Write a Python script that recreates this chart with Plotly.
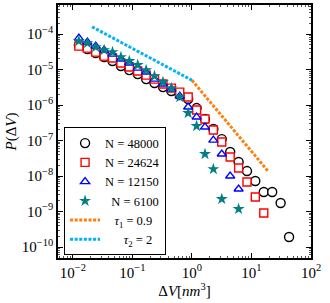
import plotly.graph_objects as go

# bin centres (ΔV, nm^3)
dv = [0.0126, 0.0175, 0.0242, 0.0335, 0.0463, 0.0641, 0.0887, 0.1228, 0.170, 0.235,
      0.326, 0.451, 0.624, 0.865, 1.197, 1.656, 2.29, 3.17, 4.39, 6.08,
      8.41, 11.6, 16.1, 22.3, 30.9, 42.8]

p_48000 = [4.90e-5, 3.78e-5, 2.92e-5, 2.25e-5, 1.74e-5, 1.26e-5, 9.68e-6, 7.47e-6, 5.40e-6, 4.17e-6,
           3.21e-6, 2.48e-6, 1.91e-6, 1.48e-6, 8.23e-7, 4.03e-7, 2.11e-7, 1.10e-7, 4.74e-8, 2.48e-8,
           1.38e-8, 7.23e-9, 3.54e-9, 3.54e-9, 1.74e-9, 1.91e-10]
p_24624 = [4.59e-5, 4.03e-5, 3.11e-5, 2.40e-5, 2.11e-5, 1.53e-5, 1.18e-5, 9.08e-6, 7.00e-6, 5.40e-6,
           3.91e-6, 3.01e-6, 2.32e-6, 1.68e-6, 7.23e-7, 4.03e-7, 1.98e-7, 9.08e-8, 3.43e-8, 1.68e-8,
           6.78e-9, 2.56e-9, 9.08e-10]
p_12150 = [7.71e-5, 5.95e-5, 4.59e-5, 3.54e-5, 2.73e-5, 1.98e-5, 1.53e-5, 1.10e-5, 8.51e-6, 5.40e-6,
           3.91e-6, 2.82e-6, 1.79e-6, 8.79e-7, 4.59e-7, 2.40e-7, 1.03e-7, 4.17e-8, 1.00e-8, 4.30e-9]
p_6100 = [6.35e-5, 5.57e-5, 4.30e-5, 3.54e-5, 3.11e-5, 2.25e-5, 1.74e-5, 1.34e-5, 9.68e-6, 6.56e-6,
          4.45e-6, 3.01e-6, 1.68e-6, 5.95e-7, 2.56e-7, 4.17e-8, 1.57e-8, 2.25e-9, None, 1.18e-9]

# power-law guide lines (end points)
tau1_x = [1.0, 19.5]
tau1_y = [5.0e-6, 1.3e-8]
tau2_x = [0.021, 1.0]
tau2_y = [1.6e-4, 5.0e-6]

x_tickvals = [1e-2, 1e-1, 1e0, 1e1, 1e2]
x_ticktext = ["10<sup>−2</sup>", "10<sup>−1</sup>", "10<sup>0</sup>", "10<sup>1</sup>", "10<sup>2</sup>"]
y_tickvals = [1e-10, 1e-9, 1e-8, 1e-7, 1e-6, 1e-5, 1e-4]
y_ticktext = ["10<sup>−10</sup>", "10<sup>−9</sup>", "10<sup>−8</sup>", "10<sup>−7</sup>",
              "10<sup>−6</sup>", "10<sup>−5</sup>", "10<sup>−4</sup>"]

FONT = "Liberation Serif"
NB = "\u00a0"

fig = go.Figure()
fig.add_trace(go.Scatter(x=dv[:len(p_48000)], y=p_48000, mode="markers", name="N = 48000",
                         marker=dict(symbol="circle", size=9, color="white",
                                     line=dict(color="black", width=1.4))))
fig.add_trace(go.Scatter(x=dv[:len(p_24624)], y=p_24624, mode="markers", name="N = 24624",
                         marker=dict(symbol="square", size=8, color="white",
                                     line=dict(color="#ff0000", width=1.4))))
fig.add_trace(go.Scatter(x=dv[:len(p_12150)], y=p_12150, mode="markers", name="N = 12150",
                         marker=dict(symbol="triangle-up", size=8, color="white",
                                     line=dict(color="#0000ff", width=1.4))))
fig.add_trace(go.Scatter(x=dv[:len(p_6100)], y=p_6100, mode="markers", name=NB * 2 + "N = 6100",
                         marker=dict(symbol="star", size=9, color="#008080",
                                     line=dict(color="#008080", width=0))))
fig.add_trace(go.Scatter(x=tau1_x, y=tau1_y, mode="lines",
                         name=NB * 3 + "<i>τ</i><sub>1</sub> = 0.9",
                         line=dict(color="#ff7f0e", width=3, dash="3px,1.6px")))
fig.add_trace(go.Scatter(x=tau2_x, y=tau2_y, mode="lines",
                         name=NB * 6 + "<i>τ</i><sub>2</sub> = 2",
                         line=dict(color="#00b4f0", width=3, dash="3px,1.6px")))

axis_common = dict(
    type="log", showgrid=False, zeroline=False, automargin=False,
    showline=True, linecolor="black", linewidth=1.5, mirror="allticks",
    ticks="inside", ticklen=5, tickwidth=1, tickcolor="black",
    minor=dict(ticks="inside", ticklen=2.5, tickwidth=0.8, tickcolor="#555", dtick="D1", showgrid=False),
    tickfont=dict(family=FONT, size=15, color="black"),
)

fig.update_xaxes(**axis_common, range=[-2.25, 2.0], tickvals=x_tickvals, ticktext=x_ticktext,
                 title=dict(text="Δ<i>V</i>[<i>nm</i><sup>3</sup>]",
                            font=dict(family=FONT, size=15, color="black"), standoff=0))
fig.update_yaxes(**axis_common, range=[-10.31, -3.18], tickvals=y_tickvals, ticktext=y_ticktext,
                 title=dict(text="<i>P</i>(Δ<i>V</i>)",
                            font=dict(family=FONT, size=15, color="black"), standoff=2))

fig.update_layout(
    width=330, height=303,
    margin=dict(l=58, r=19, t=5, b=45),
    paper_bgcolor="white", plot_bgcolor="white",
    font=dict(family=FONT, size=13, color="black"),
    legend=dict(x=0.024, y=0.01, xanchor="left", yanchor="bottom",
                bgcolor="white", bordercolor="black", borderwidth=1,
                font=dict(family=FONT, size=12.5, color="black"),
                itemwidth=30, tracegroupgap=0, traceorder="normal"),
    showlegend=True,
)

fig.write_html("out.html", config={"displayModeBar": False},
               post_script="document.body.style.margin='0';")
